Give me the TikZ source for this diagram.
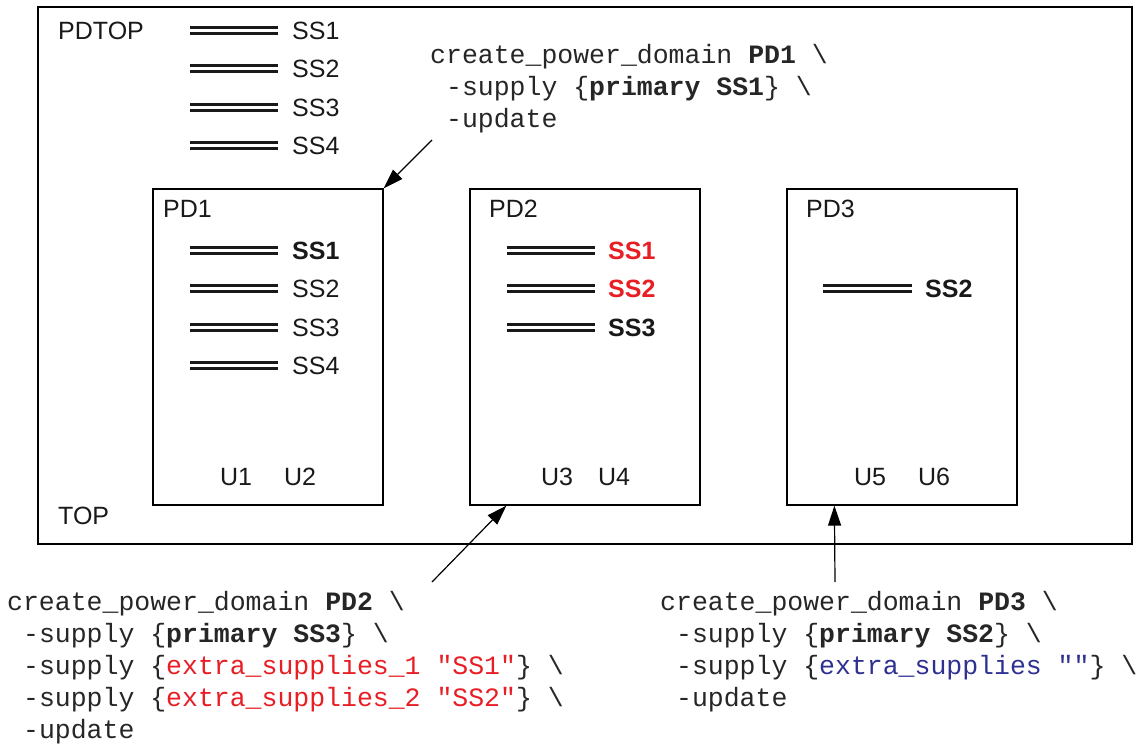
\documentclass[tikz,border=0pt]{standalone}
\usepackage{fontspec}
\setmainfont{Liberation Sans}
\setmonofont{Liberation Mono}
\usetikzlibrary{arrows.meta}
\definecolor{srcred}{RGB}{232,30,37}
\definecolor{srcblue}{RGB}{46,49,146}
\newcommand{\lblfont}{\fontsize{25}{30}\selectfont}
\newcommand{\srcfont}{\ttfamily\fontsize{26.5}{32}\selectfont}

\begin{document}
\begin{tikzpicture}[x=1pt,y=-1pt]
		\tikzset{pdbox/.style={draw, line width=1.2pt, minimum width=230pt, minimum height=316pt, inner sep=0pt},
		  rail/.style={draw=black!90, line width=3.7pt, double distance=2.4pt},
		  lab/.style={font=\lblfont, inner sep=0pt, text=black!90},
		  code/.style={font=\srcfont, align=left, inner sep=0pt, text=black!85},
		  arr/.style={line width=1.2pt, -{Triangle[length=20pt,width=13pt]}}}
		\useasboundingbox (0,0) rectangle (1148,745);

		% outer design and the three domains
		\node[draw, line width=1.2pt, minimum width=1094pt, minimum height=537pt, inner sep=0pt] (TOPbox) at (585,275.5) {};
		\node[pdbox] (PD1) at (268,347) {};
		\node[pdbox] (PD2) at (585,347) {};
		\node[pdbox] (PD3) at (902,347) {};

		\node[lab, anchor=base west] (pdtop) at (58,39) {PDTOP};
		\node[lab, anchor=base west] (top) at (58,524) {TOP};
		\node[lab, anchor=base west] (lPD1) at (163,217) {PD1};
		\node[lab, anchor=base west] (lPD2) at (489,217) {PD2};
		\node[lab, anchor=base west] (lPD3) at (806,217) {PD3};

		% supply sets of PDTOP
		\draw[rail] (190,30.5) -- (278,30.5);
		\draw[rail] (190,68.5) -- (278,68.5);
		\draw[rail] (190,107.5) -- (278,107.5);
		\draw[rail] (190,145.5) -- (278,145.5);
		\node[lab, anchor=base west] (tSS1) at (292,39) {SS1};
		\node[lab, anchor=base west] (tSS2) at (292,77.5) {SS2};
		\node[lab, anchor=base west] (tSS3) at (292,116) {SS3};
		\node[lab, anchor=base west] (tSS4) at (292,154.5) {SS4};

		% supply sets of PD1
		\draw[rail] (190,250.5) -- (278,250.5);
		\draw[rail] (190,288.5) -- (278,288.5);
		\draw[rail] (190,327.5) -- (278,327.5);
		\draw[rail] (190,365.5) -- (278,365.5);
		\node[lab, anchor=base west] (aSS1) at (292,259) {\bfseries SS1};
		\node[lab, anchor=base west] (aSS2) at (292,297.5) {SS2};
		\node[lab, anchor=base west] (aSS3) at (292,336) {SS3};
		\node[lab, anchor=base west] (aSS4) at (292,374.5) {SS4};

		% supply sets of PD2
		\draw[rail] (507,250.5) -- (595,250.5);
		\draw[rail] (507,288.5) -- (595,288.5);
		\draw[rail] (507,327.5) -- (595,327.5);
		\node[lab, anchor=base west, text=srcred] (bSS1) at (608,259) {\bfseries SS1};
		\node[lab, anchor=base west, text=srcred] (bSS2) at (608,297.5) {\bfseries SS2};
		\node[lab, anchor=base west] (bSS3) at (608,336) {\bfseries SS3};

		% supply set of PD3
		\draw[rail] (823,288.5) -- (912,288.5);
		\node[lab, anchor=base west] (cSS2) at (925,297.5) {\bfseries SS2};

		% instances
		\node[lab, anchor=base] (U1) at (236,485) {U1};
		\node[lab, anchor=base] (U2) at (300,485) {U2};
		\node[lab, anchor=base] (U3) at (557,485) {U3};
		\node[lab, anchor=base] (U4) at (614,485) {U4};
		\node[lab, anchor=base] (U5) at (870,485) {U5};
		\node[lab, anchor=base] (U6) at (934,485) {U6};

		% commands (base = baseline of the last line)
		\node[code, anchor=base west] (cPD1) at (430,127) {create\_power\_domain \textbf{PD1} \textbackslash\\\ -supply \{\textbf{primary SS1}\} \textbackslash\\\ -update};
		\node[code, anchor=base west] (cPD2) at (7,738) {create\_power\_domain \textbf{PD2} \textbackslash\\\ -supply \{\textbf{primary SS3}\} \textbackslash\\\ -supply \{\textcolor{srcred}{extra\_supplies\_1 "SS1"}\} \textbackslash\\\ -supply \{\textcolor{srcred}{extra\_supplies\_2 "SS2"}\} \textbackslash\\\ -update};
		\node[code, anchor=base west] (cPD3) at (660,706) {create\_power\_domain \textbf{PD3} \textbackslash\\\ -supply \{\textbf{primary SS2}\} \textbackslash\\\ -supply \{\textcolor{srcblue}{extra\_supplies ""}\} \textbackslash\\\ -update};

		\coordinate (tPD1) at (432,140);
		\coordinate (tPD2) at (432,582);
		\coordinate (tPD3) at (835,582);
		\draw[arr] (tPD1) -- (PD1.north east);
		\draw[arr] (tPD2) -- ([xshift=37pt]PD2.south west);
		\draw[arr] (tPD3) -- ([xshift=48pt]PD3.south west);

		\end{tikzpicture}
\end{document}
